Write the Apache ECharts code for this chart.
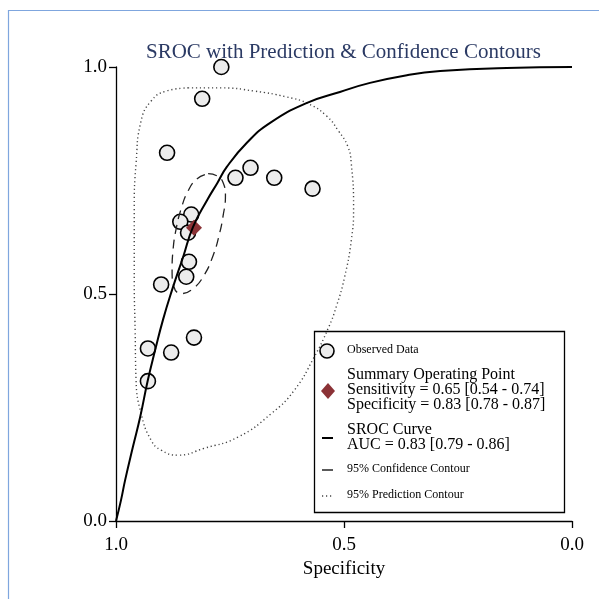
<!DOCTYPE html>
<html>
<head>
<meta charset="utf-8">
<script src="https://cdn.jsdelivr.net/npm/echarts@6/dist/echarts.min.js"></script>
<style>
  html, body { margin: 0; padding: 0; background: #fff; }
  #chart { width: 599px; height: 599px; }
</style>
</head>
<body>
<div id="chart"></div>
<script>
// observed studies: [specificity, sensitivity]
const observed = [
  [0.769, 1.000], [0.811, 0.930], [0.888, 0.811], [0.738, 0.756],
  [0.705, 0.778], [0.653, 0.756], [0.569, 0.732], [0.835, 0.675],
  [0.859, 0.659], [0.842, 0.635], [0.840, 0.571], [0.846, 0.538],
  [0.901, 0.521], [0.829, 0.404], [0.930, 0.380], [0.879, 0.371],
  [0.930, 0.308]
];
const summaryPoint = [[0.829, 0.646]];

// SROC curve
const srocCurve = [
  [1.000, 0.000], [0.989, 0.046], [0.980, 0.090], [0.963, 0.163], [0.947, 0.229],
  [0.930, 0.311], [0.914, 0.377], [0.897, 0.443], [0.877, 0.509], [0.853, 0.581],
  [0.831, 0.648], [0.800, 0.707], [0.778, 0.744], [0.757, 0.780], [0.713, 0.833],
  [0.662, 0.877], [0.581, 0.921], [0.509, 0.945], [0.443, 0.965], [0.362, 0.982],
  [0.289, 0.991], [0.143, 0.998], [0.000, 1.000]
];

const confidenceContour = [
  [0.798, 0.765], [0.778, 0.760], [0.765, 0.745], [0.760, 0.716], [0.765, 0.673],
  [0.774, 0.629], [0.787, 0.585], [0.807, 0.541], [0.831, 0.512], [0.857, 0.501],
  [0.873, 0.516], [0.877, 0.552], [0.875, 0.596], [0.868, 0.644], [0.857, 0.688],
  [0.842, 0.727], [0.822, 0.754], [0.798, 0.765]
];

const predictionContour = [
  [0.842, 0.954], [0.769, 0.954], [0.697, 0.947], [0.626, 0.934], [0.578, 0.919],
  [0.538, 0.892], [0.512, 0.859], [0.492, 0.826], [0.484, 0.787], [0.479, 0.690],
  [0.484, 0.618], [0.499, 0.536], [0.516, 0.475], [0.534, 0.426], [0.567, 0.358],
  [0.609, 0.288], [0.659, 0.237], [0.732, 0.185], [0.807, 0.160], [0.864, 0.145],
  [0.901, 0.156], [0.923, 0.178], [0.945, 0.237], [0.956, 0.310], [0.958, 0.420],
  [0.960, 0.530], [0.960, 0.690], [0.956, 0.787], [0.945, 0.881], [0.923, 0.925],
  [0.890, 0.947], [0.842, 0.954]
];

const titleText = 'SROC with Prediction & Confidence Contours';
const legendLines = {
  observed: 'Observed Data',
  summary: ['Summary Operating Point', 'Sensitivity = 0.65 [0.54 - 0.74]', 'Specificity = 0.83 [0.78 - 0.87]'],
  sroc: ['SROC Curve', 'AUC = 0.83 [0.79 - 0.86]'],
  conf: '95% Confidence Contour',
  pred: '95% Prediction Contour'
};

const serif = '"Liberation Serif", "DejaVu Serif", serif';
const chart = echarts.init(document.getElementById('chart'));

const option = {
  animation: false,
  title: {
    text: titleText,
    left: 141,
    top: 37,
    textStyle: { fontFamily: serif, fontSize: 21, fontWeight: 'normal', color: '#2b3a64' }
  },
  grid: { left: 116, right: 27, top: 67, bottom: 78 },
  xAxis: {
    type: 'value',
    inverse: true,
    min: 0,
    max: 1,
    interval: 0.5,
    name: 'Specificity',
    nameLocation: 'middle',
    nameGap: 39,
    nameTextStyle: { fontFamily: serif, fontSize: 19, color: '#000' },
    axisLine: { show: true, onZero: false, lineStyle: { color: '#000', width: 1.3 } },
    axisTick: { show: true, length: 7, lineStyle: { color: '#000', width: 1.3 } },
    axisLabel: { fontFamily: serif, fontSize: 19, color: '#000', margin: 15, formatter: v => v.toFixed(1) },
    splitLine: { show: false }
  },
  yAxis: {
    type: 'value',
    position: 'left',
    min: 0,
    max: 1,
    interval: 0.5,
    axisLine: { show: true, onZero: false, lineStyle: { color: '#000', width: 1.3 } },
    axisTick: { show: true, length: 7, lineStyle: { color: '#000', width: 1.3 } },
    axisLabel: { fontFamily: serif, fontSize: 19, color: '#000', margin: 9, formatter: v => v.toFixed(1) },
    splitLine: { show: false }
  },
  series: [
    {
      name: 'prediction',
      type: 'line',
      data: predictionContour,
      smooth: 0.5,
      symbol: 'none',
      lineStyle: { color: '#444', width: 1.4, type: [1.2, 2.8] }
    },
    {
      name: 'confidence',
      type: 'line',
      data: confidenceContour,
      smooth: 0.5,
      symbol: 'none',
      lineStyle: { color: '#222', width: 1.3, type: [9, 6] }
    },
    {
      name: 'sroc',
      type: 'line',
      data: srocCurve,
      smooth: 0.5,
      symbol: 'none',
      lineStyle: { color: '#000', width: 2 }
    },
    {
      name: 'observed',
      type: 'scatter',
      data: observed,
      symbol: 'circle',
      symbolSize: 15,
      itemStyle: { color: '#ececec', borderColor: '#000', borderWidth: 1.6, opacity: 1 }
    },
    {
      name: 'summary',
      type: 'scatter',
      data: summaryPoint,
      symbol: 'diamond',
      symbolSize: 16,
      itemStyle: { color: '#8b3236', opacity: 1 }
    }
  ],
  graphic: [
    // outer frame (top + left edge)
    { type: 'polyline', shape: { points: [[8.5, 599], [8.5, 10.5], [599, 10.5]] },
      style: { stroke: '#7fa6de', lineWidth: 1.2, fill: null } },
    // legend box
    { type: 'rect', shape: { x: 314.5, y: 331.5, width: 250, height: 181 },
      style: { fill: '#fff', stroke: '#000', lineWidth: 1.3 } },
    { type: 'circle', shape: { cx: 327, cy: 351, r: 7 },
      style: { fill: '#ececec', stroke: '#000', lineWidth: 1.6 } },
    { type: 'text', left: 347, top: 344,
      style: { text: legendLines.observed, font: '12px ' + serif, fill: '#000' } },
    { type: 'polygon', shape: { points: [[328, 383], [335, 391], [328, 399], [321, 391]] },
      style: { fill: '#8b3236' } },
    { type: 'text', left: 347, top: 367,
      style: { text: legendLines.summary.join('\n'), font: '16px ' + serif, lineHeight: 15, fill: '#000' } },
    { type: 'line', shape: { x1: 322, y1: 438, x2: 333, y2: 438 },
      style: { stroke: '#000', lineWidth: 2 } },
    { type: 'text', left: 347, top: 422,
      style: { text: legendLines.sroc.join('\n'), font: '16px ' + serif, lineHeight: 15, fill: '#000' } },
    { type: 'line', shape: { x1: 322, y1: 470, x2: 333, y2: 470 },
      style: { stroke: '#000', lineWidth: 1.3 } },
    { type: 'text', left: 347, top: 463,
      style: { text: legendLines.conf, font: '12px ' + serif, fill: '#000' } },
    { type: 'line', shape: { x1: 322, y1: 496, x2: 333, y2: 496 },
      style: { stroke: '#444', lineWidth: 1.3, lineDash: [1.2, 2.8] } },
    { type: 'text', left: 347, top: 489,
      style: { text: legendLines.pred, font: '12px ' + serif, fill: '#000' } }
  ]
};

chart.setOption(option);
</script>
</body>
</html>
